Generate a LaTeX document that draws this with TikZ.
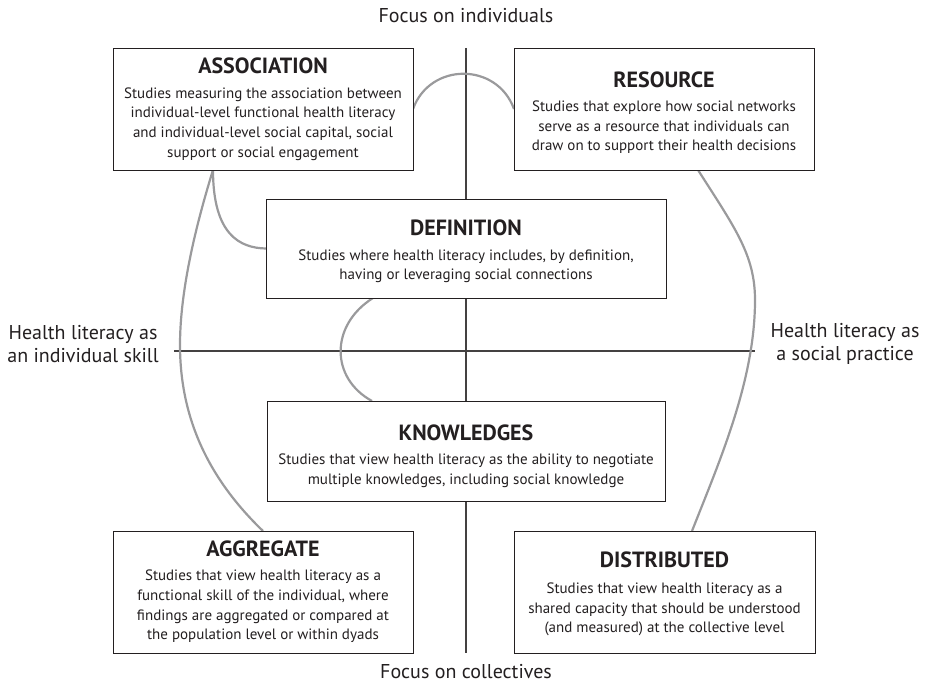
\documentclass[tikz,border=0pt]{standalone}
\usepackage{fontspec}
\setmainfont{PT Sans}
\usetikzlibrary{calc}
\definecolor{ink}{HTML}{231F20}
\definecolor{linkgrey}{HTML}{9A9A9C}
\begin{document}
\begin{tikzpicture}[x=1pt,y=-1pt,
  boxframe/.style={draw=ink, line width=0.9pt, fill=white, inner sep=0pt},
  boxtext/.style={align=center, inner sep=0pt, text=ink, font=\fontsize{15}{19.7}\selectfont},
  link/.style={draw=linkgrey, line width=2.2pt},
  axis/.style={draw=ink!85, line width=1.3pt},
  lab/.style={text=ink, align=center, font=\fontsize{20}{23}\selectfont, inner sep=0pt}]
\useasboundingbox (0,0) rectangle (925,685);
\newcommand\boxtitle[1]{{\fontsize{22}{24}\selectfont\bfseries #1}}
% axes
\coordinate (vtop) at (466,48);
\coordinate (vbot) at (466,653);
\coordinate (hleft) at (174,351);
\coordinate (hright) at (755,351);
\draw[axis] (vtop) -- (vbot);
\draw[axis] (hleft) -- (hright);
% axis labels
\node[lab] (top) at (466,16) {Focus on individuals};
\node[lab] (bottom) at (466,672) {Focus on collectives};
\node[lab] (left) at (83,344) {Health literacy as\\an individual skill};
\node[lab] (right) at (845,344) {Health literacy as\\a social practice};
% connectors (drawn before boxes so boxes cover ends)
\coordinate (assocfoot) at (213,170);
\coordinate (resfoot) at (698,170);
\draw[link] (413,109) .. controls (430,62) and (497,62) .. (514,109);
\draw[link] (assocfoot) .. controls (213,235) and (240,248) .. (266,248.5);
\draw[link] (assocfoot) .. controls (196,225) and (180,290) .. (180,345)
                       .. controls (180,420) and (210,480) .. (263,531);
\draw[link] (373,298) .. controls (330,325) and (330,378) .. (372,401);
\draw[link] (resfoot) .. controls (735,228) and (755,255) .. (755,300)
                      .. controls (755,380) and (720,460) .. (692,531);
% box frames
\node[boxframe, minimum width=300pt, minimum height=122pt] (assoc) at (263,109) {};
\node[boxframe, minimum width=300pt, minimum height=122pt] (res) at (664,109) {};
\node[boxframe, minimum width=400pt, minimum height=99pt] (def) at (466,248.5) {};
\node[boxframe, minimum width=398pt, minimum height=100pt] (know) at (466,451) {};
\node[boxframe, minimum width=300pt, minimum height=122pt] (agg) at (263,592) {};
\node[boxframe, minimum width=301pt, minimum height=122pt] (dist) at (664.5,592) {};
% box texts
\node[boxtext] (assoctext) at ($(assoc.center)+(0,0)$)
  {\boxtitle{ASSOCIATION}\\[5pt]
   Studies measuring the association between\\
   individual-level functional health literacy\\
   and individual-level social capital, social\\
   support or social engagement};
\node[boxtext] (restext) at ($(res.center)+(0,4)$)
  {\boxtitle{RESOURCE}\\[4pt]
   Studies that explore how social networks\\
   serve as a resource that individuals can\\
   draw on to support their health decisions};
\node[boxtext] (deftext) at ($(def.center)+(0,3)$)
  {\boxtitle{DEFINITION}\\[5pt]
   Studies where health literacy includes, by definition,\\
   having or leveraging social connections};
\node[boxtext] (knowtext) at ($(know.center)+(0,5)$)
  {\boxtitle{KNOWLEDGES}\\[5pt]
   Studies that view health literacy as the ability to negotiate\\
   multiple knowledges, including social knowledge};
\node[boxtext] (aggtext) at ($(agg.center)+(0,0)$)
  {\boxtitle{AGGREGATE}\\[4pt]
   Studies that view health literacy as a\\
   functional skill of the individual, where\\
   findings are aggregated or compared at\\
   the population level or within dyads};
\node[boxtext] (disttext) at ($(dist.center)+(0,2)$)
  {\boxtitle{DISTRIBUTED}\\[6pt]
   Studies that view health literacy as a\\
   shared capacity that should be understood\\
   (and measured) at the collective level};
\end{tikzpicture}
\end{document}
